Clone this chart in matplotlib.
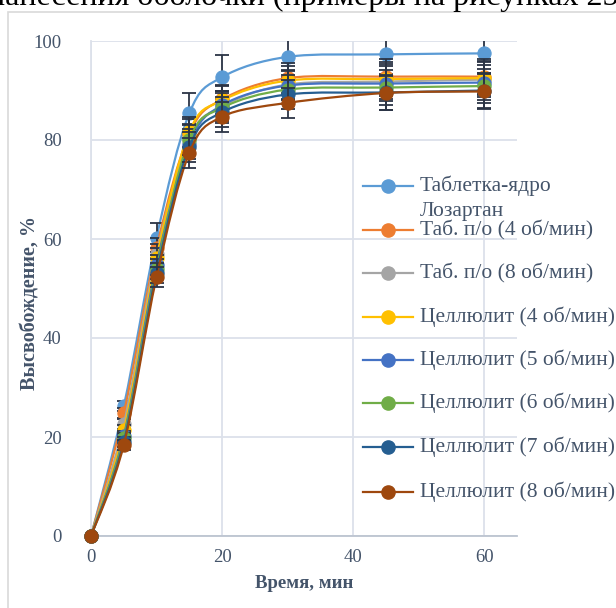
import numpy as np
import matplotlib
matplotlib.use("Agg")
import matplotlib.pyplot as plt
from matplotlib.path import Path
from matplotlib.patches import PathPatch, Rectangle
from matplotlib.lines import Line2D

plt.rcParams['font.family'] = ['Liberation Serif', 'DejaVu Serif']

# time points, min
time = [0, 5, 10, 15, 20, 30, 45, 60]

labels = [
    "Таблетка-ядро\nЛозартан",
    "Таб. п/о (4 об/мин)",
    "Таб. п/о (8 об/мин)",
    "Целлюлит (4 об/мин)",
    "Целлюлит (5 об/мин)",
    "Целлюлит (6 об/мин)",
    "Целлюлит (7 об/мин)",
    "Целлюлит (8 об/мин)",
]

core = [0, 26.2, 60.3, 85.4, 92.7, 96.8, 97.3, 97.5]
tab4 = [0, 24.8, 58.2, 81.2, 88.2, 92.5, 92.8, 92.8]
tab8 = [0, 22.6, 57.0, 80.2, 86.8, 91.2, 91.8, 92.2]
cel4 = [0, 21.4, 56.2, 81.6, 88.0, 92.0, 92.3, 92.5]
cel5 = [0, 20.2, 54.8, 79.2, 87.0, 91.0, 91.4, 91.6]
cel6 = [0, 19.8, 54.0, 80.0, 86.5, 90.2, 90.6, 90.9]
cel7 = [0, 19.0, 53.2, 78.6, 85.6, 89.2, 89.6, 90.0]
cel8 = [0, 18.4, 52.3, 77.4, 84.7, 87.5, 89.5, 89.8]

err_core = [0, 1.0, 3.0, 4.0, 4.5, 4.0, 4.0, 4.0]
err_other = [0, 1.0, 2.0, 3.0, 3.0, 3.0, 3.5, 3.5]

series = [core, tab4, tab8, cel4, cel5, cel6, cel7, cel8]
errors = [err_core] + [err_other] * 7
colors = ["#5B9BD5", "#ED7D31", "#A5A5A5", "#FFC000",
          "#4472C4", "#70AD47", "#255E91", "#9E480E"]

W, H = 616, 608
fig = plt.figure(figsize=(W / 100, H / 100), dpi=100)


def fx(px):
    return px / W


def fy(py):
    return 1 - py / H


# chart frame (page crop)
fig.patches.append(Rectangle((fx(8), fy(640)), 1.2, fy(11.5) - fy(640),
                             transform=fig.transFigure, fill=False,
                             edgecolor="#D9D9D9", lw=1.2))
fig.text(fx(-12), fy(5), "нанесения оболочки (примеры на рисунках 25",
         ha="left", va="baseline", fontsize=23, color="black")

ax = fig.add_axes([fx(91), fy(536), fx(517) - fx(91), fy(41) - fy(536)])
ax.set_xlim(0, 65)
ax.set_ylim(0, 100)
ax.set_xticks([0, 20, 40, 60])
ax.set_yticks([0, 20, 40, 60, 80, 100])
ax.grid(True, color="#DCE1EA", lw=1.3)
ax.set_axisbelow(True)
for s in ["top", "right"]:
    ax.spines[s].set_visible(False)
ax.spines["left"].set_color("#DCE1EA")
ax.spines["left"].set_linewidth(1.3)
ax.spines["bottom"].set_color("#BCC4D0")
ax.spines["bottom"].set_linewidth(1.3)
ax.tick_params(length=0, labelsize=13.5, colors="#44546A")
ax.tick_params(axis="x", pad=9)
ax.tick_params(axis="y", pad=21)
ax.set_xlabel("Время, мин", fontsize=13.5, fontweight="bold",
              color="#44546A", labelpad=7)
fig.text(fx(31), fy(303), "Высвобождение, %", rotation=90, ha="center",
         va="center", fontsize=14.5, fontweight="bold", color="#44546A")


def smooth_path(xs, ys):
    pts = np.column_stack([xs, ys]).astype(float)
    n = len(pts)
    verts = [pts[0]]
    codes = [Path.MOVETO]
    for i in range(n - 1):
        p0 = pts[max(i - 1, 0)]
        p1 = pts[i]
        p2 = pts[i + 1]
        p3 = pts[min(i + 2, n - 1)]
        c1 = p1 + (p2 - p0) / 6
        c2 = p2 - (p3 - p1) / 6
        verts += [c1, c2, p2]
        codes += [Path.CURVE4] * 3
    return Path(verts, codes)


for k, (vals, err, col) in enumerate(zip(series, errors, colors)):
    z = 3 + k
    ax.add_patch(PathPatch(smooth_path(time, vals), fill=False,
                           edgecolor=col, lw=1.6, zorder=z, clip_on=False))
    ax.errorbar(time[1:], vals[1:], yerr=err[1:], fmt="none",
                ecolor="#2B3445", elinewidth=1.3, capsize=5, capthick=1.3,
                zorder=z)
    ax.plot(time, vals, "o", color=col, markersize=9.5,
            markeredgecolor=col, markeredgewidth=0.8, zorder=z + 0.5,
            clip_on=False)

# legend drawn by hand to mimic the wrapped first entry
ys = [186, 230, 273, 317, 360, 403, 447, 492]
for lab, col, yy in zip(labels, colors, ys):
    fig.add_artist(Line2D([fx(363), fx(413)], [fy(yy), fy(yy)], color=col,
                          lw=1.6, transform=fig.transFigure))
    fig.add_artist(Line2D([fx(388)], [fy(yy)], marker="o", color=col,
                          markersize=9.5, transform=fig.transFigure))
    first, *rest = lab.split("\n")
    fig.text(fx(420), fy(yy), first, ha="left", va="center",
             fontsize=15.5, color="#44546A")
    for j, line in enumerate(rest):
        fig.text(fx(420), fy(yy + 26 * (j + 1)), line, ha="left",
                 va="center", fontsize=15.5, color="#44546A")

fig.savefig("out.png", dpi=100)
